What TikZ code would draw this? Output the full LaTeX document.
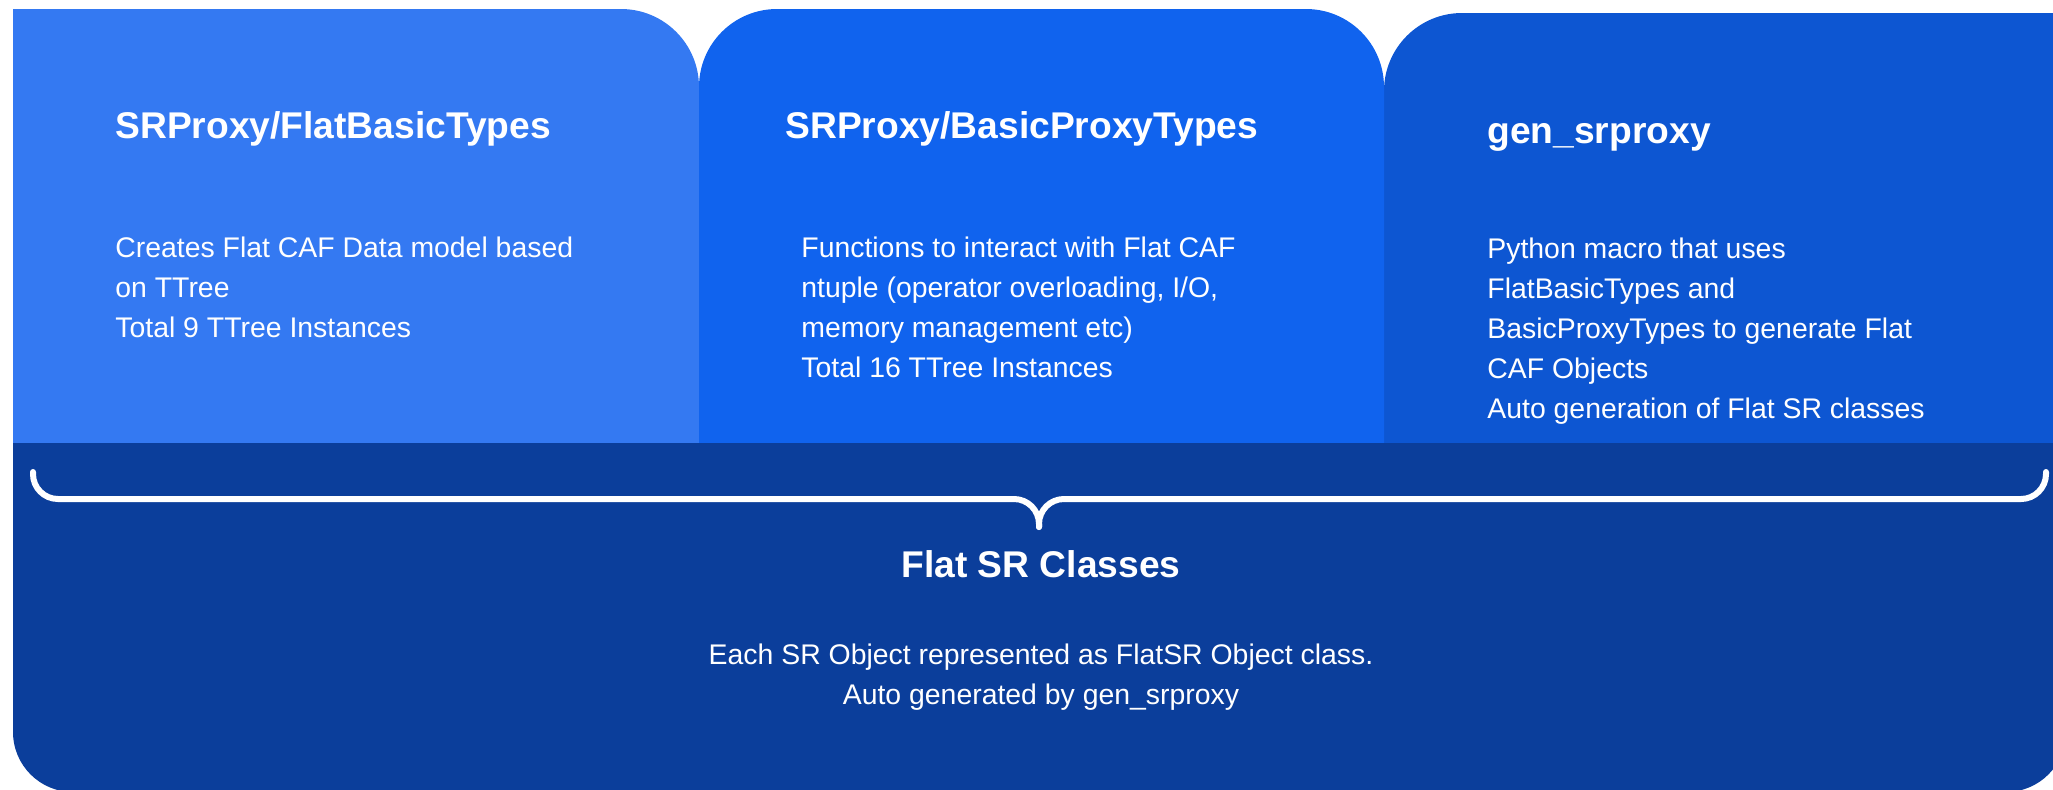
\documentclass[tikz,border=0pt]{standalone}
\usepackage{fontspec}
\setmainfont{Liberation Sans}
\usetikzlibrary{positioning}
\definecolor{flatA}{HTML}{3479F2}
\definecolor{flatB}{HTML}{1063EE}
\definecolor{flatC}{HTML}{0D56D2}
\definecolor{flatD}{HTML}{0B3E9B}
\tikzset{
  panel/.style={rounded corners=39pt},
  head/.style={anchor=base west, inner sep=0pt, text=white,
    font=\fontsize{18.6pt}{22pt}\selectfont\bfseries},
  blurb/.style={anchor=base west, inner sep=0pt, text=white, align=left,
    font=\fontsize{14.2pt}{20pt}\selectfont},
  brace/.style={draw=white, line width=3pt, line cap=round, rounded corners=12.5pt},
}
\begin{document}
\begin{tikzpicture}[x=0.5pt, y=-0.5pt]
    \useasboundingbox (0,0) rectangle (2053,789);
    \clip (0,0) rectangle (2053,789);
    % top panels
    \fill[flatA, panel] (13,9) rectangle (699,620);
    \fill[flatA] (13,9) rectangle (150,150);
    \fill[flatC, panel] (1384,13) rectangle (2200,620);
    \fill[flatB, panel] (699,9) rectangle (1384,620);
    % bottom panel
    \fill[flatD, rounded corners=30pt] (13,443) rectangle (2066,792);
    \fill[flatD] (13,443) rectangle (2066,600);

    % base of a text block = baseline of its last line
    \node[head] (fbtHead) at (115,138) {SRProxy/FlatBasicTypes};
    \node[blurb] (fbtText) at (115,337) {Creates Flat CAF Data model based\\on TTree\\Total 9 TTree Instances};

    \node[head] (bptHead) at (785,138) {SRProxy/BasicProxyTypes};
    \node[blurb] (bptText) at (801,377) {Functions to interact with Flat CAF\\ntuple (operator overloading, I/O,\\memory management etc)\\Total 16 TTree Instances};

    \node[head] (genHead) at (1487,143) {gen\_srproxy};
    \node[blurb] (genText) at (1487,418) {Python macro that uses\\FlatBasicTypes and\\BasicProxyTypes to generate Flat\\CAF Objects\\Auto generation of Flat SR classes};

    % brace
    \coordinate (braceL) at (33,472);
    \coordinate (braceM) at (1039,499);
    \coordinate (braceT) at (1039,527);
    \coordinate (braceR) at (2046,472);
    \draw[brace] (braceL) |- (braceM) -- (braceT);
    \draw[brace] (braceT) -- (braceM) -| (braceR);

    \node[head, anchor=base] (srHead) at (1041,577) {Flat SR Classes};
    \node[blurb, anchor=base, align=center] (srText) at (1041,704) {Each SR Object represented as FlatSR Object class.\\Auto generated by gen\_srproxy};
\end{tikzpicture}
\end{document}
